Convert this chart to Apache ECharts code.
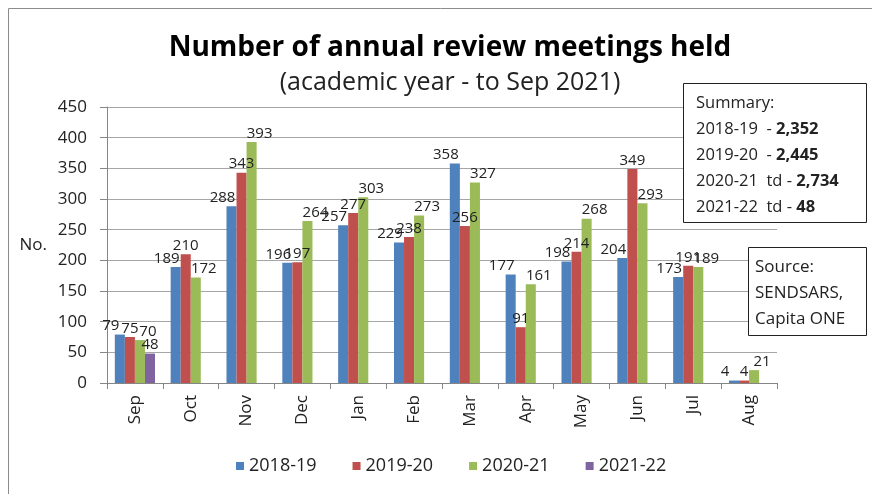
<!DOCTYPE html>
<html>
<head>
<meta charset="utf-8">
<script src="https://cdn.jsdelivr.net/npm/echarts@6/dist/echarts.min.js"></script>
<style>
  html, body { margin: 0; padding: 0; background: #fff; }
  #chart { width: 872px; height: 494px; }
</style>
</head>
<body>
<div id="chart"></div>
<script>
  var months = ['Sep', 'Oct', 'Nov', 'Dec', 'Jan', 'Feb', 'Mar', 'Apr', 'May', 'Jun', 'Jul', 'Aug'];
  var y2018_19 = [79, 189, 288, 196, 257, 229, 358, 177, 198, 204, 173, 4];
  var y2019_20 = [75, 210, 343, 197, 277, 238, 256, 91, 214, 349, 191, 4];
  var y2020_21 = [70, 172, 393, 264, 303, 273, 327, 161, 268, 293, 189, 21];
  var y2021_22 = [48, null, null, null, null, null, null, null, null, null, null, null];
  var seriesNames = ['2018-19', '2019-20', '2020-21', '2021-22'];
  var yTicks = { min: 0, max: 450, step: 50 };

  var font = '"Open Sans", "Noto Sans", sans-serif';
  var ink = '#222';
  var colors = ['#4F81BD', '#C0504D', '#9BBB59', '#8064A2'];
  var labelShift = [-9, 0, 8, 0]; // labels sit a bit staggered in the original

  function barSeries(i, data) {
    return {
      name: seriesNames[i],
      type: 'bar',
      data: data,
      barGap: '0%',
      barCategoryGap: '28%',
      itemStyle: { color: colors[i] },
      label: {
        show: true,
        position: 'top',
        distance: 1,
        offset: [labelShift[i], 0],
        fontFamily: font,
        fontSize: 15,
        color: ink
      }
    };
  }

  var myChart = echarts.init(document.getElementById('chart'));
  myChart.setOption({
    animation: false,
    textStyle: { fontFamily: font },
    title: {
      text: 'Number of annual review meetings held',
      subtext: '(academic year - to Sep 2021)',
      left: 445,
      textAlign: 'center',
      top: 29,
      itemGap: 8,
      textStyle: { fontFamily: font, fontSize: 28, fontWeight: 'bold', color: '#000' },
      subtextStyle: { fontFamily: font, fontSize: 25, color: ink }
    },
    grid: { left: 107, right: 95, top: 107, bottom: 111 },
    legend: {
      top: 452,
      left: 231,
      itemWidth: 8,
      itemHeight: 8,
      itemGap: 36,
      icon: 'rect',
      textStyle: { fontFamily: font, fontSize: 18, color: ink },
      data: seriesNames
    },
    xAxis: {
      type: 'category',
      data: months,
      axisLine: { lineStyle: { color: '#868686' } },
      axisTick: { show: true, length: 6, lineStyle: { color: '#868686' } },
      axisLabel: { rotate: 90, fontFamily: font, fontSize: 17, color: ink, margin: 12 }
    },
    yAxis: {
      type: 'value',
      min: yTicks.min,
      max: yTicks.max,
      interval: yTicks.step,
      name: 'No.',
      nameLocation: 'middle',
      nameRotate: 0,
      nameGap: 60,
      nameTextStyle: { fontFamily: font, fontSize: 17, color: ink },
      axisLine: { show: true, lineStyle: { color: '#868686' } },
      axisTick: { show: true, length: 7, lineStyle: { color: '#868686' } },
      axisLabel: { fontFamily: font, fontSize: 17, color: ink, margin: 20 },
      splitLine: { lineStyle: { color: '#a6a6a6' } }
    },
    series: [
      barSeries(0, y2018_19),
      barSeries(1, y2019_20),
      barSeries(2, y2020_21),
      barSeries(3, y2021_22)
    ],
    graphic: [
      {
        type: 'rect',
        z: 100,
        shape: { x: 8.5, y: 8.5, width: 900, height: 520 },
        style: { fill: 'none', stroke: '#8c8c8c', lineWidth: 1 },
        silent: true
      },
      {
        type: 'group',
        z: 100,
        left: 683,
        top: 83,
        children: [
          {
            type: 'rect',
            z: 100,
            shape: { x: 0.5, y: 0.5, width: 183, height: 139 },
            style: { fill: '#fff', stroke: '#222', lineWidth: 1 }
          },
          {
            type: 'text',
            z: 101,
            x: 13,
            y: 7,
            style: {
              text: 'Summary:\n2018-19  - {b|2,352}\n2019-20  - {b|2,445}\n2020-21  td - {b|2,734}\n2021-22  td - {b|48}',
              fontFamily: font,
              fontSize: 16.5,
              lineHeight: 26,
              fill: ink,
              rich: { b: { fontFamily: font, fontSize: 16.5, fontWeight: 'bold', lineHeight: 26 } }
            }
          }
        ]
      },
      {
        type: 'group',
        z: 100,
        left: 748,
        top: 247,
        children: [
          {
            type: 'rect',
            z: 100,
            shape: { x: 0.5, y: 0.5, width: 118, height: 88 },
            style: { fill: '#fff', stroke: '#222', lineWidth: 1 }
          },
          {
            type: 'text',
            z: 101,
            x: 7,
            y: 7,
            style: {
              text: 'Source:\nSENDSARS,\nCapita ONE',
              fontFamily: font,
              fontSize: 17,
              lineHeight: 26,
              fill: ink
            }
          }
        ]
      }
    ]
  });
</script>
</body>
</html>
